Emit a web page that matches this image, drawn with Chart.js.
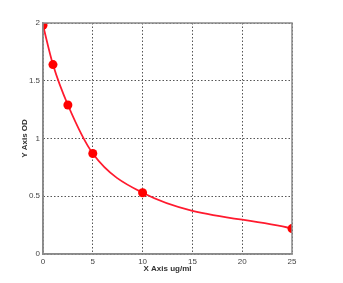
<!DOCTYPE html>
<html><head><meta charset="utf-8">
<script src="https://cdn.jsdelivr.net/npm/chart.js@4"></script>
<style>html,body{margin:0;padding:0;background:#fff}#w{width:343px;height:283px}</style>
</head><body><div id="w"><canvas id="c"></canvas></div>
<script>
const concentrations = [0, 1, 2.5, 5, 10, 25];
const odValues = [1.98, 1.64, 1.29, 0.87, 0.53, 0.22];
const xTicks = [0, 5, 10, 15, 20, 25];
const yTicks = [0, 0.5, 1, 1.5, 2];

const boxPlugin = {
  id: 'box',
  afterDraw(chart) {
    const {ctx, chartArea: a} = chart;
    ctx.save();
    ctx.strokeStyle = '#8a8a8a';
    ctx.lineWidth = 1.5;
    ctx.strokeRect(a.left, a.top, a.right - a.left, a.bottom - a.top);
    ctx.restore();
  }
};

new Chart(document.getElementById('c'), {
  type: 'scatter',
  data: {
    datasets: [{
      data: concentrations.map((x, i) => ({x, y: odValues[i]})),
      showLine: true,
      cubicInterpolationMode: 'monotone',
      borderColor: '#ff1a2e',
      backgroundColor: '#ff0000',
      borderWidth: 1.8,
      pointRadius: 4.5,
      pointBorderWidth: 0
    }]
  },
  options: {
    responsive: true,
    maintainAspectRatio: false,
    animation: false,
    layout: {padding: {top: 23, right: 51, left: 20, bottom: 9}},
    plugins: {legend: {display: false}, tooltip: {enabled: false}},
    scales: {
      x: {
        type: 'linear', min: 0, max: 25,
        afterBuildTicks: s => { s.ticks = xTicks.map(v => ({value: v})); },
        afterFit: s => { s.height = 20; },
        grid: {color: '#555', lineWidth: 1, drawTicks: false},
        border: {display: true, color: '#8a8a8a', width: 1.5, dash: [1.5, 2]},
        ticks: {font: {family: 'Liberation Sans', size: 8}, color: '#444', padding: 3, callback: v => String(v)},
        title: {display: true, text: 'X Axis ug/ml', font: {family: 'Liberation Sans', size: 8, weight: 'bold'}, color: '#333', padding: {top: 0, bottom: 0}}
      },
      y: {
        type: 'linear', min: 0, max: 2,
        afterBuildTicks: s => { s.ticks = yTicks.map(v => ({value: v})); },
        afterFit: s => { s.width = 23; },
        grid: {color: '#555', lineWidth: 1, drawTicks: false},
        border: {display: true, color: '#8a8a8a', width: 1.5, dash: [1.5, 2]},
        ticks: {font: {family: 'Liberation Sans', size: 8}, color: '#444', padding: 3, callback: v => String(v)},
        title: {display: true, text: 'Y Axis OD', font: {family: 'Liberation Sans', size: 8, weight: 'bold'}, color: '#333', padding: {top: 0, bottom: 0}}
      }
    }
  },
  plugins: [boxPlugin]
});
</script></body></html>
